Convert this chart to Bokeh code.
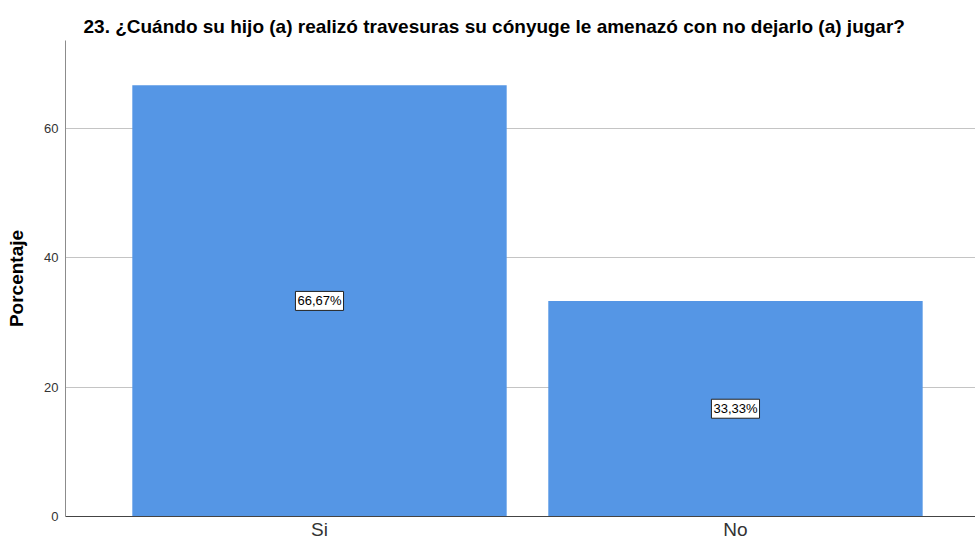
from bokeh.plotting import figure
from bokeh.models import ColumnDataSource, Range1d, FixedTicker, Label
from bokeh.embed import file_html
from bokeh.resources import INLINE

categories = ["Si", "No"]
percentages = [66.67, 33.33]
bar_labels = ["66,67%", "33,33%"]
y_ticks = [0, 20, 40, 60]

xs = list(range(len(categories)))
src = ColumnDataSource(dict(x=xs, top=percentages))

p = figure(width=975, height=542, output_backend="svg", toolbar_location=None,
           x_range=Range1d(-0.6106, 1.577), y_range=Range1d(0, 73.6),
           min_border_left=65, min_border_right=0, min_border_top=40,
           min_border_bottom=0)

p.title.text = "23. ¿Cuándo su hijo (a) realizó travesuras su cónyuge le amenazó con no dejarlo (a) jugar?"
p.title.text_font = "Liberation Sans"
p.title.text_font_size = "19px"
p.title.text_font_style = "bold"
p.title.text_color = "black"
p.title.align = "left"
p.title.offset = 18
p.title.standoff = 7

p.vbar(x="x", top="top", bottom=0, width=0.9, source=src,
       fill_color="#5596e5", line_color=None)

for xi, v, t in zip(xs, percentages, bar_labels):
    lab = Label(x=xi, y=v / 2, text=t,
                text_align="center", text_baseline="middle",
                text_font="Liberation Sans", text_font_size="13px",
                text_color="black", background_fill_color="white",
                border_line_color="#222222", border_line_width=1)
    try:
        lab.padding = 2
    except Exception:
        pass
    p.add_layout(lab)

p.xgrid.visible = False
p.ygrid.grid_line_color = "#c4c4c4"
p.ygrid.grid_line_width = 1
p.ygrid.ticker = FixedTicker(ticks=y_ticks)

p.yaxis.ticker = FixedTicker(ticks=y_ticks)
p.yaxis.axis_label = "Porcentaje"
p.yaxis.axis_label_text_font = "Liberation Sans"
p.yaxis.axis_label_text_font_size = "19px"
p.yaxis.axis_label_text_font_style = "bold"
p.yaxis.axis_label_text_color = "black"
p.yaxis.axis_label_standoff = 14
p.yaxis.major_label_text_font = "Liberation Sans"
p.yaxis.major_label_text_font_size = "13px"
p.yaxis.major_label_text_color = "#333333"
p.yaxis.major_label_standoff = 7
p.yaxis.major_tick_out = 0
p.yaxis.major_tick_in = 0
p.yaxis.major_tick_line_color = None
p.yaxis.minor_tick_line_color = None
p.yaxis.axis_line_color = "#8c8c8c"

p.xaxis.ticker = FixedTicker(ticks=xs)
p.xaxis.major_label_overrides = {i: c for i, c in zip(xs, categories)}
p.xaxis.major_label_text_font = "Liberation Sans"
p.xaxis.major_label_text_font_size = "19px"
p.xaxis.major_label_text_color = "#333333"
p.xaxis.major_label_standoff = 2
p.xaxis.major_tick_out = 0
p.xaxis.major_tick_in = 0
p.xaxis.major_tick_line_color = None
p.xaxis.minor_tick_line_color = None
p.xaxis.axis_line_color = "#444444"

p.outline_line_color = None

open("out.html", "w").write(file_html(p, INLINE))
